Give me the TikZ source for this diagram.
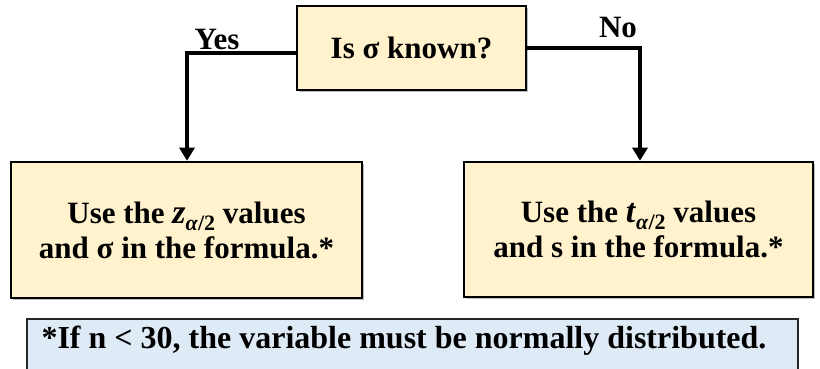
\documentclass[tikz,border=0pt]{standalone}
\usepackage{fontspec}
\setmainfont{Liberation Serif}
\usetikzlibrary{arrows.meta,shadows}
\definecolor{boxyellow}{HTML}{FFF2CC}
\definecolor{boxblue}{HTML}{DEEBF7}
\newcommand{\sub}[1]{\raisebox{-7pt}{\fontsize{22}{22}\selectfont #1}}
\newcommand{\mvar}[1]{{\fontsize{34}{35}\selectfont\textit{#1}}}
\begin{document}
\begin{tikzpicture}[x=1pt,y=1pt,
  every node/.style={font=\bfseries\fontsize{31}{35}\selectfont},
  decision/.style={draw=black, line width=2.6pt, fill=boxyellow, inner sep=0pt,
    drop shadow={shadow xshift=2pt, shadow yshift=-2pt, fill=gray, opacity=0.5}},
  outcome/.style={draw=black, line width=2.6pt, fill=boxyellow, inner sep=0pt, align=center,
    drop shadow={shadow xshift=2pt, shadow yshift=-2pt, fill=gray, opacity=0.5}},
  notebox/.style={draw=black!85, line width=1.8pt, fill=boxblue, inner sep=0pt},
  lbl/.style={inner sep=0pt, anchor=base},
  conn/.style={line width=3.4pt, -{Triangle[width=15pt,length=13pt]}}]
\useasboundingbox (0,0) rectangle (820,-369);
\clip (0,0) rectangle (820,-369);
\node[decision, minimum width=229, minimum height=84] (top) at (411.5,-48) {Is σ known?};
\node[outcome, minimum width=351, minimum height=136] (left) at (186.5,-230)
  {Use the \mvar{z}\sub{\textit{α}/2} values\\and σ in the formula.*};
\node[outcome, minimum width=349, minimum height=135] (right) at (638.5,-229.5)
  {Use the \mvar{t}\sub{\textit{α}/2} values\\and s in the formula.*};
\node[notebox, minimum width=771, minimum height=122] (note) at (412.5,-380) {};
\node[inner sep=0pt, font=\bfseries\fontsize{32}{35}\selectfont] (notetext) at (404,-341)
  {*If n < 30, the variable must be normally distributed.};
\coordinate (ycorner) at (187,-53);
\coordinate (ncorner) at (640,-48);
\draw[conn] (top.west |- ycorner) -- (ycorner) -- (left.north -| ycorner);
\draw[conn] (top.east |- ncorner) -- (ncorner) -- (right.north -| ncorner);
\node[lbl] (yes) at (217,-50) {Yes};
\node[lbl] (no) at (618,-38) {No};
\end{tikzpicture}
\end{document}
